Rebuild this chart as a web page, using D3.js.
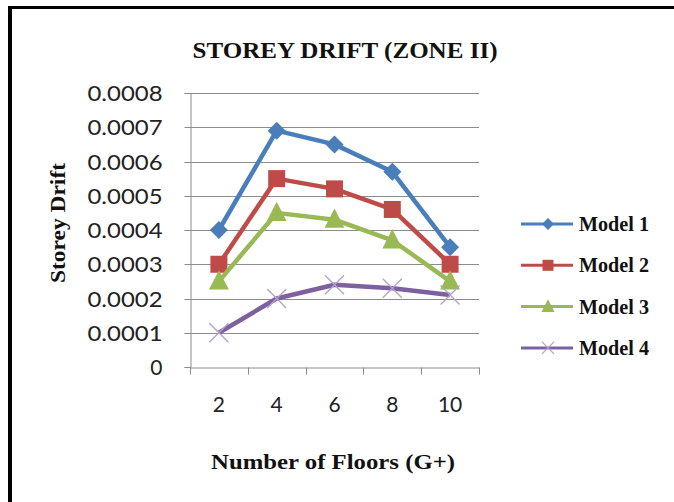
<!DOCTYPE html>
<html>
<head>
<meta charset="utf-8">
<script src="https://cdn.jsdelivr.net/npm/d3@7"></script>
<style>
  html, body { margin: 0; padding: 0; background: #fff; }
  svg { display: block; }
</style>
</head>
<body>
<div id="chart"></div>
<script>
// Storey drift per model for each building height (zone II)
const floors = ["2", "4", "6", "8", "10"];
const model1 = [0.00040, 0.00069, 0.00065, 0.00057, 0.00035];
const model2 = [0.00030, 0.00055, 0.00052, 0.00046, 0.00030];
const model3 = [0.00025, 0.00045, 0.00043, 0.00037, 0.00025];
const model4 = [0.00010, 0.00020, 0.00024, 0.00023, 0.00021];
const seriesNames = ["Model 1", "Model 2", "Model 3", "Model 4"];
const yTicks = [0, 0.0001, 0.0002, 0.0003, 0.0004, 0.0005, 0.0006, 0.0007, 0.0008];

const W = 674, H = 502;
const plot = { left: 190, right: 479, top: 93, bottom: 367 };

const series = [
  { name: seriesNames[0], values: model1, color: "#4A7EBB", marker: "diamond" },
  { name: seriesNames[1], values: model2, color: "#BE4B48", marker: "square" },
  { name: seriesNames[2], values: model3, color: "#98B954", marker: "triangle" },
  { name: seriesNames[3], values: model4, color: "#7D60A0", marker: "cross" }
];

const svg = d3.select("#chart").append("svg")
  .attr("width", W).attr("height", H);

svg.append("rect").attr("width", W).attr("height", H).attr("fill", "#fff");

// frame: top and left edges
svg.append("line").attr("x1", 8).attr("x2", W).attr("y1", 7.5).attr("y2", 7.5)
  .attr("stroke", "#000").attr("stroke-width", 3);
svg.append("line").attr("x1", 10).attr("x2", 10).attr("y1", 6).attr("y2", H)
  .attr("stroke", "#000").attr("stroke-width", 4);

const x = d3.scaleBand().domain(floors).range([plot.left, plot.right]);
const y = d3.scaleLinear().domain([0, 0.0008]).range([plot.bottom, plot.top]);

// horizontal gridlines
svg.append("g").selectAll("line").data(yTicks.slice(1)).join("line")
  .attr("x1", plot.left).attr("x2", plot.right)
  .attr("y1", d => Math.round(y(d)) + 0.5).attr("y2", d => Math.round(y(d)) + 0.5)
  .attr("stroke", "#8C8C8C").attr("stroke-width", 1);

// y axis
const yAxis = svg.append("g")
  .attr("transform", `translate(${plot.left + 0.5},0)`)
  .call(d3.axisLeft(y).tickValues(yTicks).tickSize(6).tickPadding(22)
    .tickFormat(d => d === 0 ? "0" : d3.format(".4f")(d)));
yAxis.select(".domain").attr("stroke", "#8C8C8C");
yAxis.selectAll(".tick line").attr("stroke", "#8C8C8C");
yAxis.selectAll(".tick").attr("transform", d => `translate(0,${Math.round(y(d)) + 0.5})`);
yAxis.selectAll("text")
  .attr("font-family", "Lato, 'Open Sans', sans-serif")
  .attr("font-size", 21).attr("fill", "#222").attr("dy", "0.35em")
  .each(function (d) {
    if (d !== 0) d3.select(this).attr("textLength", 75).attr("lengthAdjust", "spacingAndGlyphs");
  });

// x axis with tick marks at band boundaries
const xAxis = svg.append("g")
  .attr("transform", `translate(0,${Math.round(plot.bottom) + 0.5})`)
  .call(d3.axisBottom(x).tickSize(0).tickPadding(30));
xAxis.select(".domain").attr("stroke", "#8C8C8C");
xAxis.selectAll("text")
  .attr("font-family", "Lato, 'Open Sans', sans-serif")
  .attr("font-size", 21).attr("fill", "#222");
const bounds = floors.map(f => x(f)).concat([x(floors[floors.length - 1]) + x.bandwidth()]);
xAxis.selectAll(".bound").data(bounds).join("line")
  .attr("class", "bound")
  .attr("x1", d => Math.round(d) + 0.5).attr("x2", d => Math.round(d) + 0.5)
  .attr("y1", 0).attr("y2", 7)
  .attr("stroke", "#8C8C8C");

const cx = f => x(f) + x.bandwidth() / 2;

function drawMarker(g, type, color, size) {
  if (type === "diamond") {
    const s = size / 2;
    g.append("path").attr("d", `M0,${-s}L${s},0L0,${s}L${-s},0Z`)
      .attr("fill", color);
  } else if (type === "square") {
    g.append("rect").attr("x", -size / 2).attr("y", -size / 2)
      .attr("width", size).attr("height", size).attr("fill", color);
  } else if (type === "triangle") {
    const h = size;
    g.append("path")
      .attr("d", `M0,${-h * 0.62}L${h * 0.55},${h * 0.45}L${-h * 0.55},${h * 0.45}Z`)
      .attr("fill", color);
  } else if (type === "cross") {
    const s = size / 2;
    g.append("path").attr("d", `M${-s},${-s}L${s},${s}M${-s},${s}L${s},${-s}`)
      .attr("stroke", "#B3A2CC").attr("stroke-width", 1.3).attr("fill", "none");
  }
}

const line = d3.line().x((d, i) => cx(floors[i])).y(d => y(d));

const markerSize = { diamond: 18, square: 17, triangle: 18, cross: 19 };

series.forEach(s => {
  svg.append("path").datum(s.values)
    .attr("d", line)
    .attr("fill", "none").attr("stroke", s.color)
    .attr("stroke-width", 4.5).attr("stroke-linejoin", "round");
  s.values.forEach((v, i) => {
    const g = svg.append("g").attr("transform", `translate(${cx(floors[i])},${y(v)})`);
    drawMarker(g, s.marker, s.color, markerSize[s.marker]);
  });
});

// legend
const legend = svg.append("g");
series.forEach((s, i) => {
  const ly = 224 + i * 41.3;
  legend.append("line").attr("x1", 521).attr("x2", 573).attr("y1", ly).attr("y2", ly)
    .attr("stroke", s.color).attr("stroke-width", 3);
  const g = legend.append("g").attr("transform", `translate(548,${ly})`);
  drawMarker(g, s.marker, s.color, s.marker === "square" ? 11 : 12);
  legend.append("text").attr("x", 579).attr("y", ly).attr("dy", "0.35em")
    .attr("font-family", "'Liberation Serif', 'DejaVu Serif', serif")
    .attr("font-weight", "bold").attr("font-size", 20).attr("fill", "#111")
    .attr("textLength", 70).attr("lengthAdjust", "spacingAndGlyphs")
    .text(s.name);
});

// titles
svg.append("text").attr("x", 345).attr("y", 58).attr("text-anchor", "middle")
  .attr("font-family", "'Liberation Serif', serif").attr("font-weight", "bold")
  .attr("font-size", 23).attr("fill", "#111")
  .attr("textLength", 305).attr("lengthAdjust", "spacingAndGlyphs")
  .text("STOREY DRIFT  (ZONE II)");

svg.append("text").attr("x", 333).attr("y", 469).attr("text-anchor", "middle")
  .attr("font-family", "'Liberation Serif', serif").attr("font-weight", "bold")
  .attr("font-size", 22).attr("fill", "#111")
  .attr("textLength", 244).attr("lengthAdjust", "spacingAndGlyphs")
  .text("Number of Floors (G+)");

svg.append("text").attr("transform", "translate(65,223) rotate(-90)")
  .attr("text-anchor", "middle")
  .attr("font-family", "'Liberation Serif', serif").attr("font-weight", "bold")
  .attr("font-size", 20).attr("fill", "#111")
  .attr("textLength", 120).attr("lengthAdjust", "spacingAndGlyphs")
  .text("Storey Drift");
</script>
</body>
</html>
